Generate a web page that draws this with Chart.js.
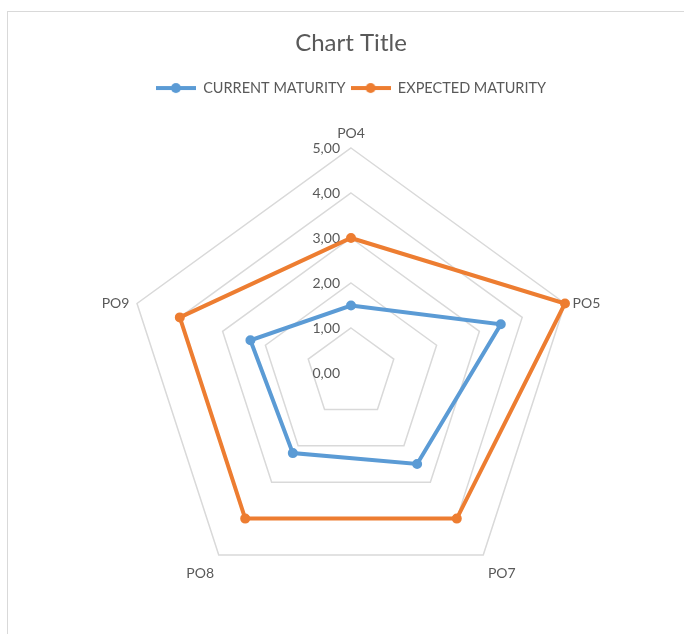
<!DOCTYPE html>
<html>
<head>
<meta charset="utf-8">
<title>Chart Title</title>
<script src="https://cdn.jsdelivr.net/npm/chart.js@4.4.1/dist/chart.umd.min.js"></script>
<style>
  html, body { margin: 0; padding: 0; background: #fff; overflow: hidden; }
  #frame { position: absolute; left: 7px; top: 11px; width: 700px; height: 640px;
           border-left: 1px solid #d9d9d9; border-top: 1px solid #d9d9d9; }
  #wrap { position: absolute; left: 0; top: 0; width: 684px; height: 650px; }
</style>
</head>
<body>
<div id="frame"></div>
<div id="wrap"><canvas id="radarChart"></canvas></div>
<script>
const categories = ["PO4", "PO5", "PO7", "PO8", "PO9"];
const currentMaturity = [1.5, 3.5, 2.5, 2.2, 2.35];
const expectedMaturity = [3, 5, 4, 4, 4];
const tickValues = [0, 1, 2, 3, 4, 5];
const seriesNames = ["CURRENT MATURITY", "EXPECTED MATURITY"];
const seriesColors = ["#5b9bd5", "#ed7d31"];

const FONT = "Lato, 'Open Sans', sans-serif";
const TEXT = "#595959";

// Excel-style legend key: short line with a dot in the middle
function legendIcon(color) {
  const c = document.createElement("canvas");
  c.width = 40;
  c.height = 12;
  const g = c.getContext("2d");
  g.strokeStyle = color;
  g.lineWidth = 4;
  g.beginPath();
  g.moveTo(0, 6);
  g.lineTo(40, 6);
  g.stroke();
  g.fillStyle = color;
  g.beginPath();
  g.arc(20, 6, 5, 0, Math.PI * 2);
  g.fill();
  return c;
}

// Tick labels (0,00 included) sit left of the vertical axis,
// category labels just outside the outer pentagon.
const radarLabels = {
  id: "radarLabels",
  beforeDatasetsDraw(chart) {
    const r = chart.scales.r;
    const ctx = chart.ctx;
    ctx.save();
    ctx.fillStyle = TEXT;
    ctx.font = `14px ${FONT}`;
    ctx.textAlign = "right";
    ctx.textBaseline = "middle";
    tickValues.forEach((v) => {
      const d = r.getDistanceFromCenterForValue(v);
      ctx.fillText(v.toFixed(2).replace(".", ","), r.xCenter - 11, r.yCenter - d);
    });
    categories.forEach((name, i) => {
      const p = r.getPointPosition(i, r.drawingArea + 8);
      const a = r.getIndexAngle(i);
      const sin = Math.sin(a);
      const cos = Math.cos(a);
      let dy = 0;
      ctx.textAlign = Math.abs(sin) < 0.1 ? "center" : sin > 0 ? "left" : "right";
      if (cos > 0.9) {
        ctx.textBaseline = "bottom";
      } else if (cos < -0.5) {
        ctx.textBaseline = "top";
        dy = 5;
      } else {
        ctx.textBaseline = "middle";
        dy = 2;
      }
      ctx.fillText(name, p.x, p.y + dy);
    });
    ctx.restore();
  }
};

new Chart(document.getElementById("radarChart"), {
  type: "radar",
  data: {
    labels: categories,
    datasets: [
      {
        label: seriesNames[0],
        data: currentMaturity,
        borderColor: seriesColors[0],
        backgroundColor: seriesColors[0],
        pointBackgroundColor: seriesColors[0],
        pointBorderColor: seriesColors[0]
      },
      {
        label: seriesNames[1],
        data: expectedMaturity,
        borderColor: seriesColors[1],
        backgroundColor: seriesColors[1],
        pointBackgroundColor: seriesColors[1],
        pointBorderColor: seriesColors[1]
      }
    ]
  },
  options: {
    responsive: true,
    maintainAspectRatio: false,
    animation: false,
    layout: { padding: { left: 126, right: 108, top: 0, bottom: 9 } },
    elements: {
      line: { borderWidth: 4, fill: false, tension: 0 },
      point: { radius: 4, borderWidth: 2, hoverRadius: 4 }
    },
    scales: {
      r: {
        min: 0,
        max: 5,
        ticks: { stepSize: 1, display: false },
        grid: { color: "#d9d9d9", lineWidth: 1.5 },
        angleLines: { display: false },
        pointLabels: { display: false }
      }
    },
    plugins: {
      title: {
        display: true,
        text: "Chart Title",
        color: TEXT,
        font: { family: FONT, size: 24, weight: "normal" },
        padding: { top: 29, bottom: 18 }
      },
      legend: {
        position: "top",
        labels: {
          usePointStyle: true,
          pointStyleWidth: 40,
          padding: 5,
          color: TEXT,
          font: { family: FONT, size: 14.5 },
          generateLabels(chart) {
            const items = Chart.defaults.plugins.legend.labels.generateLabels(chart);
            items.forEach((it, i) => {
              it.pointStyle = legendIcon(seriesColors[i]);
            });
            return items;
          }
        }
      },
      tooltip: { enabled: false }
    }
  },
  plugins: [radarLabels]
});
</script>
</body>
</html>
